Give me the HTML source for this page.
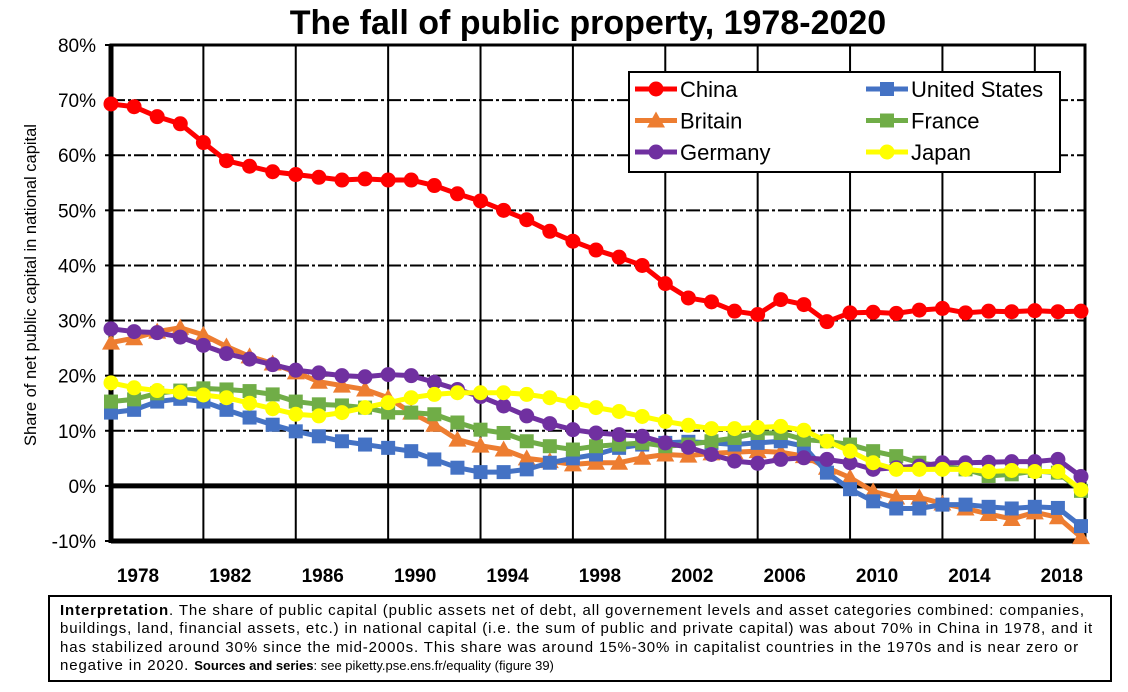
<!DOCTYPE html>
<html><head><meta charset="utf-8"><style>
body{margin:0;background:#fff;width:1128px;height:692px;overflow:hidden;font-family:"Liberation Sans",sans-serif}
#note{position:absolute;left:48px;top:595px;width:1040px;height:78px;border:2px solid #000;padding:5px 10px 0 10px;font-size:15px;letter-spacing:0.88px;line-height:18.3px;color:#000;white-space:nowrap}
#note small{font-size:13px;letter-spacing:0}
</style></head><body>
<svg id="chart" width="1128" height="692" style="position:absolute;left:0;top:0"></svg>
<div id="note"><b>Interpretation</b>. The share of public capital (public assets net of debt, all governement levels and asset categories combined: companies,<br>buildings, land, financial assets, etc.) in national capital (i.e. the sum of public and private capital) was about 70% in China in 1978, and it<br>has stabilized around 30% since the mid-2000s. This share was around 15%-30% in capitalist countries in the 1970s and is near zero or<br>negative in 2020. <small><b>Sources and series</b>: see piketty.pse.ens.fr/equality (figure 39)</small></div>
<script>
const years=[];for(let y=1978;y<=2020;y++)years.push(y);
const china=[69.3,68.8,67,65.7,62.3,59,58,57,56.5,56,55.5,55.7,55.5,55.5,54.5,53,51.7,50,48.3,46.2,44.4,42.8,41.5,40,36.7,34.1,33.4,31.7,31.1,33.8,32.9,29.8,31.4,31.5,31.3,31.9,32.2,31.4,31.7,31.6,31.8,31.6,31.7];
const us=[13.3,13.8,15.3,15.8,15.3,13.8,12.4,11.1,9.9,9,8.1,7.5,6.9,6.3,4.8,3.3,2.5,2.5,3,4.2,5,5.7,6.9,7.5,7.8,8,7.8,7.5,7.8,8.1,7.2,2.4,-0.6,-2.8,-4.1,-4.1,-3.4,-3.4,-3.8,-4.1,-3.8,-4,-7.3];
const britain=[26,26.8,28,28.7,27.4,25.3,23.5,22.2,20.6,18.9,18.2,17.5,16,13.3,11.1,8.4,7.3,6.6,5,4.5,3.9,4.2,4.2,5.1,5.7,5.5,5.9,6.1,6.3,6.1,5.4,3.3,1.5,-1,-2.1,-2.1,-3.2,-4.1,-5.1,-6,-4.8,-5.7,-9.3];
const france=[15.3,15.7,16.8,17.3,17.7,17.5,17.2,16.6,15.3,14.8,14.6,14.2,13.3,13.3,13,11.5,10.2,9.6,8.1,7.2,6.6,7.2,7.5,7.8,7.2,7.5,8.1,8.7,9.6,9.6,8.4,8.1,7.5,6.3,5.4,4.2,3.6,3,1.8,2.1,2.7,2.4,-0.9];
const germany=[28.5,28,27.8,27,25.5,24,23,22,21,20.5,20,19.8,20.2,20,18.8,17.5,16.2,14.5,12.7,11.3,10.2,9.6,9.3,9,7.8,7,5.7,4.5,4.1,4.8,5.1,4.8,4.2,3,3.3,3.6,4.2,4.2,4.3,4.4,4.4,4.8,1.7];
const japan=[18.7,17.8,17.3,17,16.5,16,15,14,13,12.7,13.3,14.2,15.1,16,16.6,16.9,16.9,16.9,16.6,16,15.1,14.2,13.5,12.6,11.7,11,10.4,10.4,10.6,10.8,10.1,8.1,6.3,4.2,3,3,3,3,2.6,2.8,2.6,2.6,-0.7];
const yTicks=[80,70,60,50,40,30,20,10,0,-10];
const xTicks=[1978,1982,1986,1990,1994,1998,2002,2006,2010,2014,2018];

const NS="http://www.w3.org/2000/svg",svg=document.getElementById('chart');
const X0=111,X1=1081,Y80=45,Ym10=541;
const x=y=>X0+(y-1978)*(X1-X0)/42;
const yv=v=>Y80+(80-v)*(Ym10-Y80)/90;
function el(t,a,p){const e=document.createElementNS(NS,t);for(const k in a)e.setAttribute(k,a[k]);(p||svg).appendChild(e);return e;}
let t=el('text',{x:588,y:34,'text-anchor':'middle','font-size':34,'font-weight':'bold'});t.textContent='The fall of public property, 1978-2020';

t=el('text',{transform:'translate(36,285) rotate(-90)','text-anchor':'middle','font-size':16.5});t.textContent='Share of net public capital in national capital';

yTicks.forEach(v=>{
 if(v!==80&&v!==-10&&v!==0){const l=el('line',{x1:X0,x2:1085,y1:yv(v),y2:yv(v),stroke:'#000','stroke-width':2,'stroke-dasharray':'14,3,3,3'});}
 const tl=el('text',{x:96,y:yv(v)+7,'text-anchor':'end','font-size':19});tl.textContent=v+'%';
 
 el('line',{x1:105,x2:X0,y1:yv(v),y2:yv(v),stroke:'#000','stroke-width':2});
});
xTicks.forEach(yr=>{
 if(yr!==1978){const l=el('line',{x1:x(yr),x2:x(yr),y1:Y80,y2:Ym10,stroke:'#000','stroke-width':2});}
 const tl=el('text',{x:x(yr)+27,y:582,'text-anchor':'middle','font-size':19,'font-weight':'bold'});tl.textContent=yr;
 
});
el('line',{x1:X0,x2:1085,y1:yv(0),y2:yv(0),stroke:'#000','stroke-width':5});
el('rect',{x:X0,y:Y80,width:1085-X0,height:Ym10-Y80,fill:'none',stroke:'#000','stroke-width':3});
el('line',{x1:X0,x2:X0,y1:Y80,y2:Ym10+2,stroke:'#000','stroke-width':5});
el('line',{x1:X0,x2:1085,y1:Ym10,y2:Ym10,stroke:'#000','stroke-width':5});
function marker(type,cx,cy,c,g){
 if(type==='circle')return el('circle',{cx:cx,cy:cy,r:7.5,fill:c},g);
 if(type==='square')return el('rect',{x:cx-7,y:cy-7,width:14,height:14,fill:c},g);
 return el('polygon',{points:`${cx},${cy-9} ${cx+9},${cy+7} ${cx-9},${cy+7}`,fill:c},g);
}
const series=[['britain',britain,'#ED7D31','tri'],['us',us,'#4472C4','square'],['france',france,'#70AD47','square'],['germany',germany,'#7030A0','circle'],['japan',japan,'#FFFF00','circle'],['china',china,'#FF0000','circle']];
series.forEach(([n,d,c,m])=>{
 const g=el('g',{});
 el('polyline',{points:d.map((v,i)=>x(years[i])+','+yv(v)).join(' '),fill:'none',stroke:c,'stroke-width':5,'stroke-linejoin':'round'},g);
 d.forEach((v,i)=>{const p=marker(m,x(years[i]),yv(v),c,g);});
});
const lg=el('g',{});
el('rect',{x:629,y:72,width:431,height:100,fill:'#fff',stroke:'#000','stroke-width':2},lg);
const entries=[['China','#FF0000','circle',0,0],['United States','#4472C4','square',1,0],['Britain','#ED7D31','tri',0,1],['France','#70AD47','square',1,1],['Germany','#7030A0','circle',0,2],['Japan','#FFFF00','circle',1,2]];
entries.forEach(([nm,c,m,col,row])=>{
 const g=el('g',{},lg);
 const lx=col?866:635,ly=89+row*31.5;
 el('line',{x1:lx,x2:lx+42,y1:ly,y2:ly,stroke:c,'stroke-width':5},g);
 marker(m,lx+21,ly,c,g);
 const tt=el('text',{x:lx+45,y:ly+8,'font-size':22},g);tt.textContent=nm;
});
</script>
</body></html>
